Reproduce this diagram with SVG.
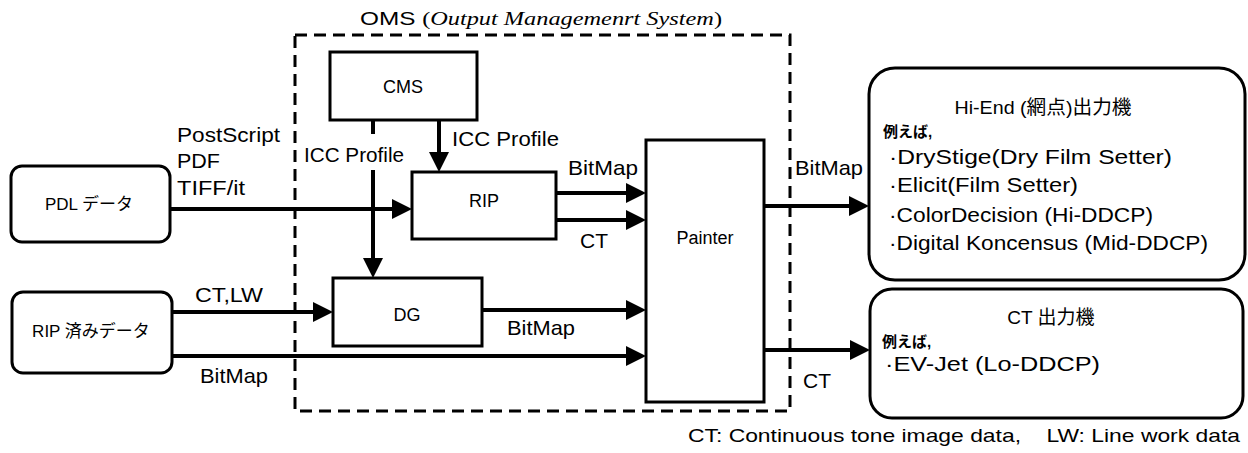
<svg xmlns="http://www.w3.org/2000/svg" width="1248" height="453" viewBox="0 0 1248 453">
<style>
text{font-family:"Liberation Sans",Arial,"Noto Sans CJK JP",sans-serif;fill:#000}
.box{fill:#fff;stroke:#000;stroke-width:3}
.lbl{font-size:21px}
.node{font-size:18px;text-anchor:middle}
.jp{font-size:17px}
.item{font-size:21px}
.ex{font-size:15px;font-weight:bold}
.conn{stroke:#000;stroke-width:4;fill:none}
.oms{fill:none;stroke:#000;stroke-width:3;stroke-dasharray:12 7}
</style>
<defs>
<marker id="ah" viewBox="0 0 20 20" refX="10" refY="10" markerWidth="20" markerHeight="20" markerUnits="userSpaceOnUse" orient="auto">
<path d="M0,0 L20,10 L0,20 Z" fill="#000"/>
</marker>
</defs>
<rect width="1248" height="453" fill="#fff"/>

<g id="oms">
<rect class="oms" x="295" y="35" width="495" height="376"/>
<text x="360" y="25" font-size="19" textLength="362" lengthAdjust="spacingAndGlyphs"><tspan>OMS </tspan><tspan font-family="Liberation Serif,serif">(</tspan><tspan font-family="Liberation Serif,serif" font-style="italic">Output Managemenrt System</tspan><tspan font-family="Liberation Serif,serif">)</tspan></text>
</g>

<g id="connectors">
<line class="conn" x1="170" y1="209" x2="402" y2="209" marker-end="url(#ah)"/>
<line class="conn" x1="373" y1="120" x2="373" y2="134"/>
<line class="conn" x1="373" y1="170" x2="373" y2="268" marker-end="url(#ah)"/>
<line class="conn" x1="439" y1="120" x2="439" y2="162" marker-end="url(#ah)"/>
<line class="conn" x1="556" y1="193" x2="636" y2="193" marker-end="url(#ah)"/>
<line class="conn" x1="556" y1="220" x2="636" y2="220" marker-end="url(#ah)"/>
<line class="conn" x1="172" y1="312" x2="323" y2="312" marker-end="url(#ah)"/>
<line class="conn" x1="482" y1="310" x2="636" y2="310" marker-end="url(#ah)"/>
<line class="conn" x1="172" y1="356" x2="636" y2="356" marker-end="url(#ah)"/>
<line class="conn" x1="764" y1="206" x2="859" y2="206" marker-end="url(#ah)"/>
<line class="conn" x1="764" y1="350" x2="860" y2="350" marker-end="url(#ah)"/>
<text class="lbl" x="177" y="142" textLength="103" lengthAdjust="spacingAndGlyphs">PostScript</text>
<text class="lbl" x="177" y="168" textLength="43" lengthAdjust="spacingAndGlyphs">PDF</text>
<text class="lbl" x="177" y="195" textLength="68" lengthAdjust="spacingAndGlyphs">TIFF/it</text>
<text class="lbl" x="304" y="162" textLength="100" lengthAdjust="spacingAndGlyphs">ICC Profile</text>
<text class="lbl" x="452" y="146" textLength="107" lengthAdjust="spacingAndGlyphs">ICC Profile</text>
<text class="lbl" x="568" y="175" textLength="70" lengthAdjust="spacingAndGlyphs">BitMap</text>
<text class="lbl" x="580" y="248">CT</text>
<text class="lbl" x="195" y="302" textLength="68" lengthAdjust="spacingAndGlyphs">CT,LW</text>
<text class="lbl" x="507" y="335" textLength="68" lengthAdjust="spacingAndGlyphs">BitMap</text>
<text class="lbl" x="200" y="383" textLength="68" lengthAdjust="spacingAndGlyphs">BitMap</text>
<text class="lbl" x="795" y="175" textLength="68" lengthAdjust="spacingAndGlyphs">BitMap</text>
<text class="lbl" x="803" y="388">CT</text>
</g>

<g id="pdl">
<rect class="box" x="11" y="166" width="159" height="76" rx="11"/>
<text class="jp" x="89" y="210" text-anchor="middle">PDL データ</text>
</g>

<g id="ripdone">
<rect class="box" x="12" y="292" width="160" height="81" rx="11"/>
<text class="jp" x="91" y="337" text-anchor="middle">RIP 済みデータ</text>
</g>

<g id="cms">
<rect class="box" x="330" y="52" width="147" height="68"/>
<text class="node" x="403" y="93">CMS</text>
</g>

<g id="rip">
<rect class="box" x="412" y="172" width="144" height="67"/>
<text class="node" x="484" y="207" font-size="19">RIP</text>
</g>

<g id="dg">
<rect class="box" x="333" y="278" width="149" height="68"/>
<text class="node" x="407" y="321">DG</text>
</g>

<g id="painter">
<rect class="box" x="646" y="140" width="118" height="262"/>
<text class="node" x="705" y="244">Painter</text>
</g>

<g id="hiend">
<rect class="box" x="869" y="68" width="376" height="212" rx="26"/>
<text x="1043" y="114" font-size="19" text-anchor="middle" textLength="177" lengthAdjust="spacingAndGlyphs">Hi-End (網点)出力機</text>
<text class="ex" x="883" y="137">例えば,</text>
<text class="item" x="889" y="164" textLength="283" lengthAdjust="spacingAndGlyphs">·DryStige(Dry Film Setter)</text>
<text class="item" x="889" y="192" textLength="189" lengthAdjust="spacingAndGlyphs">·Elicit(Film Setter)</text>
<text class="item" x="889" y="222" textLength="264" lengthAdjust="spacingAndGlyphs">·ColorDecision (Hi-DDCP)</text>
<text class="item" x="889" y="250" textLength="319" lengthAdjust="spacingAndGlyphs">·Digital Koncensus (Mid-DDCP)</text>
</g>

<g id="ctout">
<rect class="box" x="870" y="289" width="373" height="129" rx="22"/>
<text x="1051" y="324" font-size="19" text-anchor="middle">CT 出力機</text>
<text class="ex" x="882" y="347">例えば,</text>
<text class="item" x="885" y="371" textLength="215" lengthAdjust="spacingAndGlyphs">·EV-Jet (Lo-DDCP)</text>
</g>

<g id="legend">
<text x="688" y="442" font-size="19" textLength="552" lengthAdjust="spacingAndGlyphs" xml:space="preserve">CT: Continuous tone image data,    LW: Line work data</text>
</g>
</svg>
